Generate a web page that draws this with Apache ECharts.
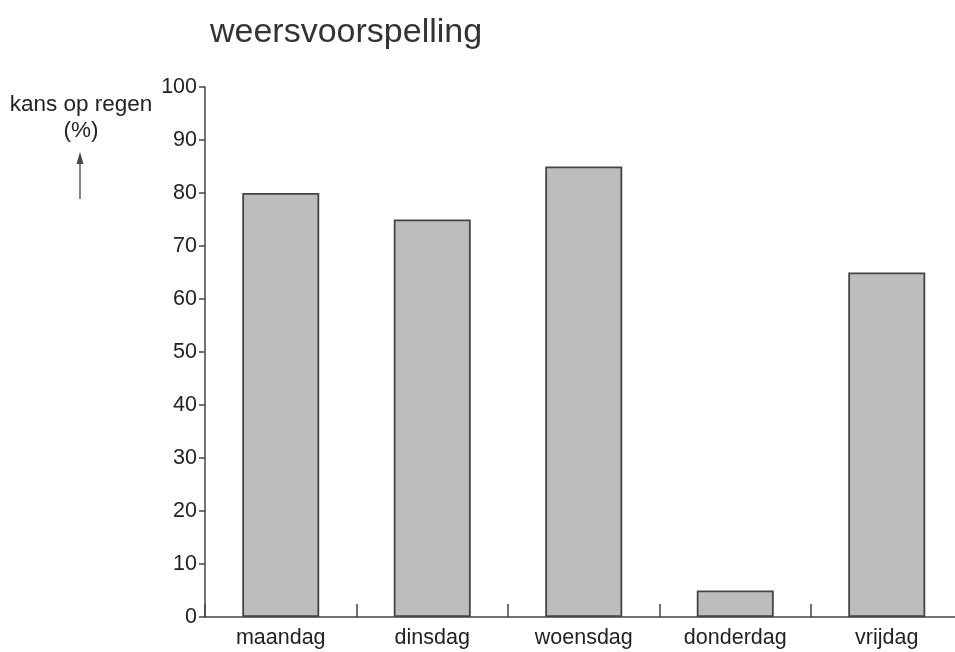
<!DOCTYPE html>
<html>
<head>
<meta charset="utf-8">
<script src="https://cdn.jsdelivr.net/npm/echarts@6/dist/echarts.min.js"></script>
<style>
html,body{margin:0;padding:0;background:#fff;overflow:hidden;width:955px;height:652px;}
#c{width:963px;height:652px;}
</style>
</head>
<body>
<div id="c"></div>
<script>
const categories = ['maandag', 'dinsdag', 'woensdag', 'donderdag', 'vrijdag'];
const values = [80, 75, 85, 5, 65];
const titleText = 'weersvoorspelling';
const yLabel = 'kans op regen\n(%)';

const chart = echarts.init(document.getElementById('c'), null, {renderer: 'canvas'});
const font = '"Liberation Sans", Arial, Helvetica, sans-serif';
chart.setOption({
  backgroundColor: '#fff',
  animation: false,
  title: {
    text: titleText,
    left: 205,
    top: 11,
    textStyle: {fontFamily: font, fontSize: 34, fontWeight: 'normal', color: '#333'}
  },
  grid: {left: 205, top: 87, bottom: 35, right: 0.5, containLabel: false},
  xAxis: {
    type: 'category',
    data: categories,
    axisLine: {lineStyle: {color: '#444', width: 1.5}},
    axisTick: {show: true, inside: true, length: 13, lineStyle: {color: '#444', width: 1.5}},
    axisLabel: {fontFamily: font, fontSize: 21.5, color: '#222', margin: 10}
  },
  yAxis: {
    type: 'value',
    min: 0, max: 100, interval: 10,
    splitLine: {show: false},
    axisLine: {show: true, lineStyle: {color: '#444', width: 1.5}},
    axisTick: {show: true, length: 6, lineStyle: {color: '#444', width: 1.5}},
    axisLabel: {fontFamily: font, fontSize: 21.5, color: '#222', margin: 8}
  },
  series: [{
    type: 'bar',
    data: values,
    barWidth: 77,
    itemStyle: {color: '#bdbdbd', borderColor: '#444', borderWidth: 1.8}
  }],
  graphic: [
    {type: 'text', x: 81, y: 92, style: {text: yLabel, fontFamily: font, fontSize: 22.5, fill: '#222', align: 'center', verticalAlign: 'top', lineHeight: 26}},
    {type: 'line', shape: {x1: 80, y1: 199, x2: 80, y2: 162}, style: {stroke: '#444', lineWidth: 1.3}},
    {type: 'polygon', shape: {points: [[80, 152], [76.5, 164], [83.5, 164]]}, style: {fill: '#444'}}
  ]
});
</script>
</body>
</html>
